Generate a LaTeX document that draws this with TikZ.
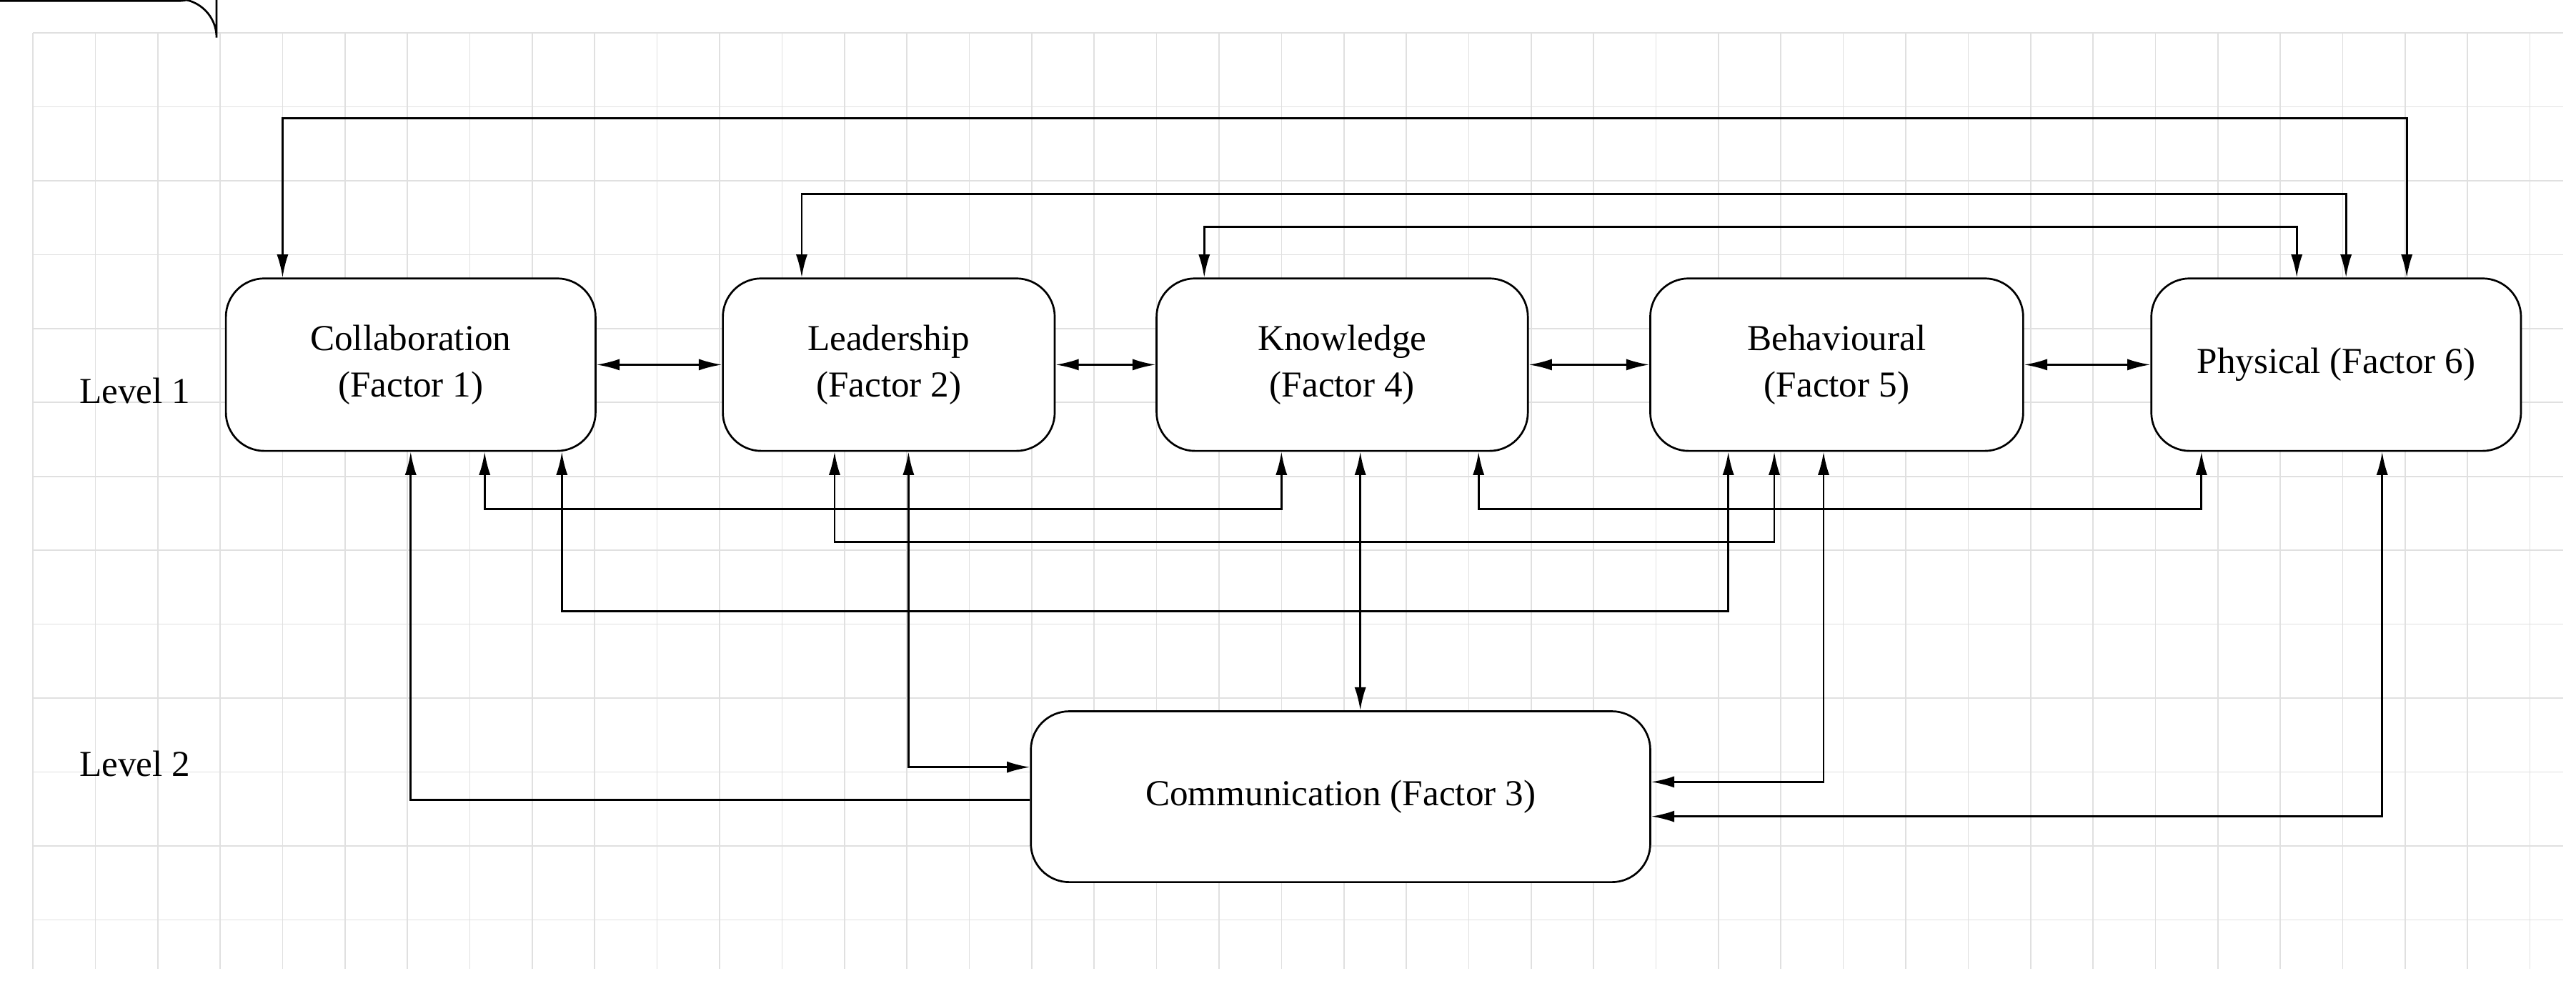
\documentclass[tikz,border=0pt]{standalone}
\usepackage{fontspec}
\setmainfont{Liberation Serif}
\usetikzlibrary{arrows.meta}
\begin{document}
\begin{tikzpicture}[x=0.03cm,y=-0.03cm,
  box/.style={draw,line width=1pt,rounded corners=20,fill=white,align=center,inner sep=0pt,font=\fontsize{19}{24}\selectfont},
  con/.style={line width=1pt,{Latex[length=12pt,width=6pt]}-{Latex[length=12pt,width=6pt]}},
  cin/.style={line width=1pt,-{Latex[length=12pt,width=6pt]}},
  lbl/.style={font=\fontsize{19}{24}\selectfont}]
\useasboundingbox (0,0) rectangle (1568,609);
\fill[white] (0,0) rectangle (1568,609);
\foreach \gx in {20,58,...,1560} \draw[black!12,line width=0.6pt] (\gx,20) -- (\gx,590);
\foreach \gy in {20,65,...,590} \draw[black!12,line width=0.6pt] (20,\gy) -- (1560,\gy);
% nodes
\node[box,minimum width=225\pgflinewidth,text width=0pt] at (0,0) {};
\path (137,170) coordinate (c1a) (362,275) coordinate (c1b);
\node[box,minimum width=6.75cm,minimum height=3.15cm] (C) at (250,222) {Collaboration\\(Factor 1)};
\node[box,minimum width=6.06cm,minimum height=3.15cm] (L) at (541,222) {Leadership\\(Factor 2)};
\node[box,minimum width=6.78cm,minimum height=3.15cm] (K) at (817,222) {Knowledge\\(Factor 4)};
\node[box,minimum width=6.81cm,minimum height=3.15cm] (B) at (1118,222) {Behavioural\\(Factor 5)};
\node[box,minimum width=6.75cm,minimum height=3.15cm] (P) at (1422,222) {Physical (Factor 6)};
\node[box,minimum width=11.31cm,minimum height=3.12cm] (M) at (816,485) {Communication (Factor 3)};
\node[lbl] (l1) at (82,238) {Level 1};
\node[lbl] (l2) at (82,465) {Level 2};
% columns
\foreach \n/\xx in {a/172,b/488,c/733,d/1398,e/1428,f/1465,g/295,h/780,i/900,j/1340,k/508,l/1080,m/342,n/1052,o/250,p/553,q/828,r/1110,s/1450}
  {\coordinate (x\n) at (\xx,0);}
\foreach \n/\yy in {A/72,B/118,C/138,D/310,E/330,F/372,G/487,H/467,I/476,J/497}
  {\coordinate (y\n) at (0,\yy);}
% horizontal neighbours
\draw[con] (C) -- (L);
\draw[con] (L) -- (K);
\draw[con] (K) -- (B);
\draw[con] (B) -- (P);
% top links
\draw[con] (C.north -| xa) -- (xa |- yA) -- (xf |- yA) -- (P.north -| xf);
\draw[con] (L.north -| xb) -- (xb |- yB) -- (xe |- yB) -- (P.north -| xe);
\draw[con] (K.north -| xc) -- (xc |- yC) -- (xd |- yC) -- (P.north -| xd);
% bottom links
\draw[con] (C.south -| xg) -- (xg |- yD) -- (xh |- yD) -- (K.south -| xh);
\draw[con] (K.south -| xi) -- (xi |- yD) -- (xj |- yD) -- (P.south -| xj);
\draw[con] (L.south -| xk) -- (xk |- yE) -- (xl |- yE) -- (B.south -| xl);
\draw[con] (C.south -| xm) -- (xm |- yF) -- (xn |- yF) -- (B.south -| xn);
% to communication
\draw[cin] (M.west |- yG) -- (xo |- yG) -- (C.south -| xo);
\draw[con] (L.south -| xp) -- (xp |- yH) -- (M.west |- yH);
\draw[con] (K.south -| xq) -- (M.north -| xq);
\draw[con] (B.south -| xr) -- (xr |- yI) -- (M.east |- yI);
\draw[con] (P.south -| xs) -- (xs |- yJ) -- (M.east |- yJ);
\end{tikzpicture}
\end{document}
